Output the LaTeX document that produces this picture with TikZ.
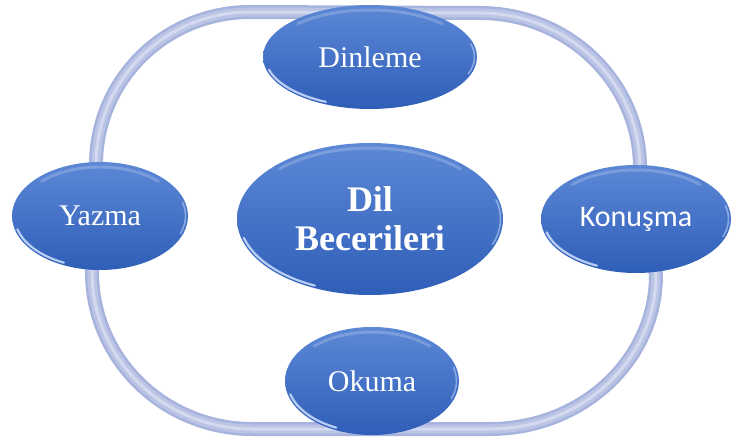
\documentclass[tikz,border=0pt]{standalone}
\usepackage{fontspec}
\setmainfont{Liberation Serif}
\newfontfamily\calib{Carlito}
\usetikzlibrary{shapes.geometric}
\definecolor{ringedge}{HTML}{A6B3DC}
\definecolor{ringc}{HTML}{BAC5E6}
\definecolor{ringhi}{HTML}{D3DAF0}
\definecolor{bluetop}{HTML}{5C88D6}
\definecolor{bluebot}{HTML}{2F5EB8}
\definecolor{glint}{HTML}{CFE0FF}
\tikzset{
  bub/.style={ellipse, top color=bluetop, bottom color=bluebot, draw=none,
    text=white, inner sep=0pt, align=center,
    path picture={
      \pgfmathsetlengthmacro\ax{0.5*\pgfkeysvalueof{/pgf/minimum width}}
      \pgfmathsetlengthmacro\by{0.5*\pgfkeysvalueof{/pgf/minimum height}}
      \pgfmathsetlengthmacro\axa{\ax-5pt}
      \pgfmathsetlengthmacro\bya{\by-5pt}
      \pgfmathsetlengthmacro\axb{\ax-2.5pt}
      \pgfmathsetlengthmacro\byb{\by-2.5pt}
      \draw[white, opacity=0.2, line width=3pt, line cap=round] (path picture bounding box.center) ++(45:{\axa} and {\bya}) arc[start angle=45, end angle=135, x radius=\axa, y radius=\bya];
      \draw[glint, opacity=0.85, line width=2.2pt, line cap=round] (path picture bounding box.center) ++(195:{\axb} and {\byb}) arc[start angle=195, end angle=245, x radius=\axb, y radius=\byb];
      \draw[glint, opacity=0.5, line width=1.6pt, line cap=round] (path picture bounding box.center) ++(-20:{\axb} and {\byb}) arc[start angle=-20, end angle=15, x radius=\axb, y radius=\byb];
    }},
  ringa/.style={line width=14pt, draw=ringedge},
  ringb/.style={line width=9pt, draw=ringc},
  ringd/.style={line width=3pt, draw=ringhi},
  lbl/.style={font=\fontsize{30}{36}\selectfont}
}
\begin{document}
\begin{tikzpicture}[x=1pt,y=-1pt]
\useasboundingbox (0,0) rectangle (732,444);
% ring coordinates
\coordinate (tlA) at (96,165);
\coordinate (tlB) at (250,12);
\coordinate (trA) at (480,13);
\coordinate (trB) at (640,168);
\coordinate (brA) at (656,275);
\coordinate (brB) at (490,429);
\coordinate (blA) at (252,429);
\coordinate (blB) at (92,272);
\foreach \s in {ringa,ringb,ringd}{
  \draw[\s] (tlA) .. controls (96,80) and (165,12) .. (tlB) -- (trA)
    .. controls (568,13) and (640,82) .. (trB) -- (brA)
    .. controls (656,360) and (582,429) .. (brB) -- (blA)
    .. controls (164,429) and (92,359) .. (blB) -- cycle;
}
\node[bub, lbl, minimum width=214pt, minimum height=104pt] (din) at (370,57) {Dinleme};
\node[bub, lbl, minimum width=176pt, minimum height=108pt] (yaz) at (100,216) {Yazma};
\node[bub, font=\calib\fontsize{30}{36}\selectfont, minimum width=190pt, minimum height=108pt] (kon) at (636,219) {Konuşma};
\node[bub, lbl, minimum width=174pt, minimum height=108pt] (oku) at (372,381) {Okuma};
\node[bub, font=\bfseries\fontsize{36}{39}\selectfont, minimum width=266pt, minimum height=152pt] (dil) at (370,219) {Dil\\Becerileri};
\end{tikzpicture}
\end{document}
